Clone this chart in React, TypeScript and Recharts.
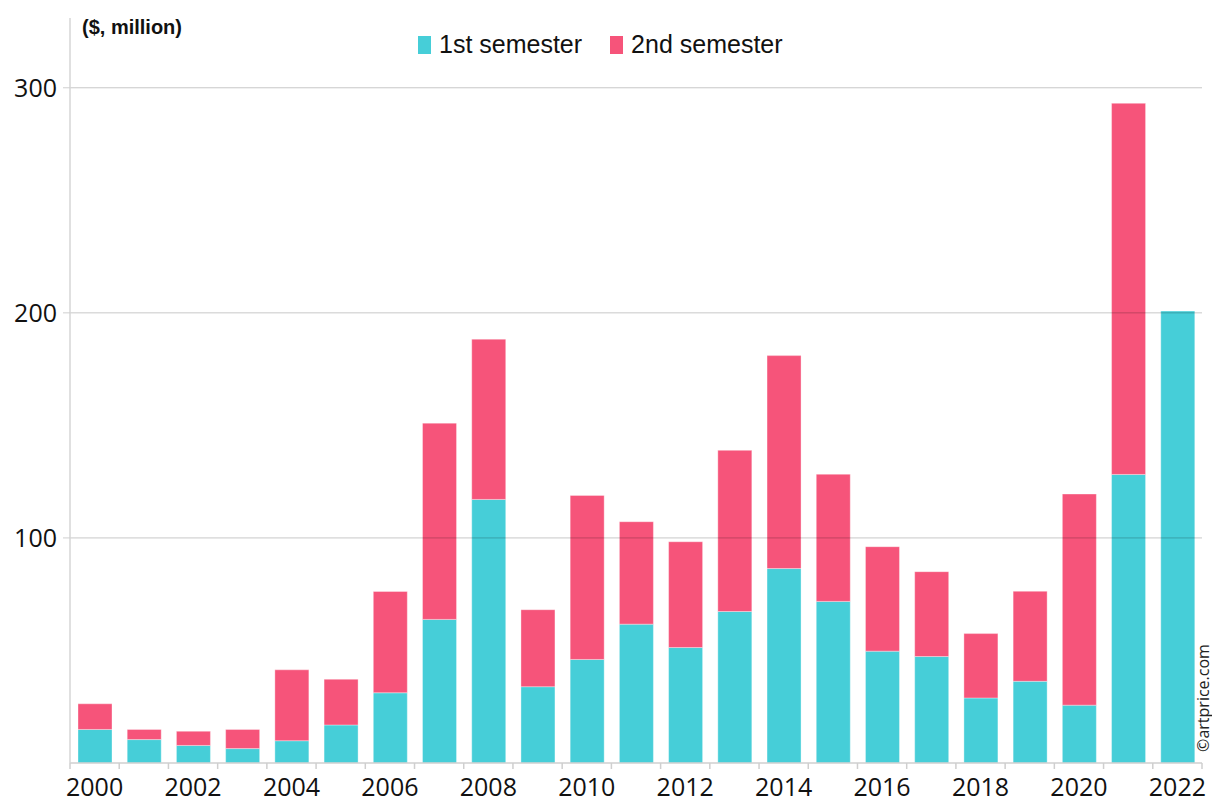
import React from "react";
import { BarChart, Bar, XAxis, YAxis, ReferenceLine } from "recharts";

const years = ["2000","2001","2002","2003","2004","2005","2006","2007","2008","2009","2010","2011","2012","2013","2014","2015","2016","2017","2018","2019","2020","2021","2022"];
const firstSemester = [14.9,10.4,7.8,6.4,9.9,16.9,31.2,63.8,117.1,33.9,46.0,61.7,51.3,67.3,86.4,71.8,49.7,47.3,28.9,36.3,25.7,128.2,200.8];
const totalYear = [26.3,14.9,14.1,14.9,41.4,37.2,76.2,151.0,188.3,68.1,118.9,107.2,98.3,138.9,181.0,128.3,96.1,85.0,57.5,76.3,119.5,293.1,200.8];
const secondSemester = totalYear.map((t, i) => Math.round((t - firstSemester[i]) * 10) / 10);
const yTicks = [100, 200, 300];
const seriesNames = ["1st semester", "2nd semester"];
const colors = ["#46CED8", "#F6547A"];

const data = years.map((y, i) => ({ year: y, s1: firstSemester[i], s2: secondSemester[i] }));

const W = 1212;
const H = 803;
const plotLeft = 70;
const plotRight = 1202;
const step = (plotRight - plotLeft) / years.length;

const XTick = (props: any) => {
  const { x, y, payload, index } = props;
  const half = step / 2;
  const showLabel = index % 2 === 0;
  return (
    <g>
      <line x1={x - half} x2={x - half} y1={y - 8} y2={y - 2} stroke="#cfcfcf" strokeWidth={1.5} />
      {index === years.length - 1 && (
        <line x1={x + half} x2={x + half} y1={y - 8} y2={y - 2} stroke="#cfcfcf" strokeWidth={1.5} />
      )}
      {showLabel && (
        <text x={x} y={y + 25} textAnchor="middle" fontFamily="'Open Sans', sans-serif" fontSize={25} fill="#111">
          {payload.value}
        </text>
      )}
    </g>
  );
};

const YTick = (props: any) => {
  const { x, y, payload } = props;
  return (
    <text x={x - 4} y={y + 9} textAnchor="end" fontFamily="'Open Sans', sans-serif" fontSize={25} fill="#111">
      {payload.value}
    </text>
  );
};

export default function App() {
  return (
    <div style={{ position: "absolute", left: 0, top: 0, width: W, height: H, background: "#fff" }}>
      <BarChart width={W} height={H} data={data} margin={{ top: 18, right: W - plotRight, bottom: 0, left: 8 }} barSize={34}>
        <XAxis
          dataKey="year"
          interval={0}
          tickLine={false}
          axisLine={{ stroke: "#cfcfcf", strokeWidth: 1.5 }}
          height={40}
          tick={<XTick />}
        />
        <YAxis
          domain={[0, 331]}
          ticks={yTicks}
          width={62}
          axisLine={{ stroke: "#d6d6d6", strokeWidth: 1.5 }}
          tickLine={{ stroke: "#cfcfcf" }}
          tickSize={7}
          tick={<YTick />}
        />
        <Bar dataKey="s1" stackId="a" fill={colors[0]} stroke="rgba(255,255,255,0.35)" strokeWidth={1} isAnimationActive={false} name={seriesNames[0]} />
        <Bar dataKey="s2" stackId="a" fill={colors[1]} stroke="rgba(255,255,255,0.35)" strokeWidth={1} isAnimationActive={false} name={seriesNames[1]} />
        {yTicks.map((t) => (
          <ReferenceLine key={t} y={t} stroke="rgba(0,0,0,0.22)" strokeWidth={1} />
        ))}
      </BarChart>
      <div style={{ position: "absolute", left: 418, top: 30, display: "flex", alignItems: "center", fontFamily: "'Liberation Sans', Arial, sans-serif", fontSize: 25, color: "#111", whiteSpace: "nowrap" }}>
        {seriesNames.map((n, i) => (
          <div key={n} style={{ display: "flex", alignItems: "center", marginRight: i === 0 ? 28 : 0 }}>
            <div style={{ width: 13, height: 18, background: colors[i], marginRight: 8 }} />
            <span>{n}</span>
          </div>
        ))}
      </div>
      <div style={{ position: "absolute", left: 82, top: 16, fontFamily: "'Liberation Sans', Arial, sans-serif", fontWeight: "bold", fontSize: 20, color: "#111" }}>
        ($, million)
      </div>
      <div style={{ position: "absolute", left: 1203, top: 698, transform: "translate(-50%, -50%) rotate(-90deg)", whiteSpace: "nowrap", fontFamily: "'Open Sans', sans-serif", fontSize: 16, lineHeight: "16px", color: "#222" }}>
        ©artprice.com
      </div>
    </div>
  );
}
